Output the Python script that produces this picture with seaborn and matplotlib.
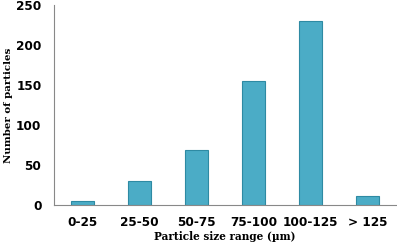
import pandas as pd
import seaborn as sns
import matplotlib.pyplot as plt
import numpy as np

# particle size distribution
size_ranges = ['0-25', '25-50', '50-75', '75-100', '100-125', '> 125']
counts = [5, 30, 69, 155, 230, 11]

df = pd.DataFrame({'range': size_ranges, 'count': counts})

sns.set_style('white')
plt.rcParams['font.family'] = ['DejaVu Sans']
plt.rcParams['text.color'] = 'black'
plt.rcParams['axes.labelcolor'] = 'black'
plt.rcParams['xtick.labelcolor'] = 'black'
plt.rcParams['ytick.labelcolor'] = 'black'

fig = plt.figure(figsize=(3.97, 2.43), dpi=100)
ax = fig.add_axes([0.136, 0.156, 0.861, 0.823])

sns.barplot(data=df, x='range', y='count', color='#4BACC6', width=0.4,
            edgecolor='#2E8AA3', linewidth=0.8, saturation=1, ax=ax)

ax.set_ylim(0, 250)
ax.set_yticks(np.arange(0, 251, 50))
ax.set_xlim(-0.5, len(size_ranges) - 0.5)

# ticks sit between categories on x
ax.set_xticks(np.arange(-0.5, len(size_ranges) + 0.5, 1), minor=False)
ax.set_xticklabels([])
ax.set_xticks(np.arange(len(size_ranges)), minor=True)
ax.set_xticklabels(size_ranges, minor=True)
ax.tick_params(axis='x', which='major', direction='out', length=4, color='#888888', width=0.8)
ax.tick_params(axis='x', which='minor', length=0, pad=7.5, labelsize=8.7)
ax.tick_params(axis='y', direction='out', length=4, color='#888888', width=0.8, labelsize=8.7, pad=5)
for lbl in ax.get_xticklabels(minor=True) + ax.get_yticklabels():
    lbl.set_fontweight('bold')

for side in ['top', 'right']:
    ax.spines[side].set_visible(False)
for side in ['left', 'bottom']:
    ax.spines[side].set_color('#888888')
    ax.spines[side].set_linewidth(0.8)

ax.set_xlabel('Particle size range (µm)', family='DejaVu Serif', fontweight='bold', fontsize=7.6, va='center')
ax.set_ylabel('Number of particles', family='DejaVu Serif', fontweight='bold', fontsize=7.4, va='center')
ax.xaxis.set_label_coords(0.5, -0.155)
ax.yaxis.set_label_coords(-0.134, 0.5)

fig.savefig('out.png', dpi=100)
